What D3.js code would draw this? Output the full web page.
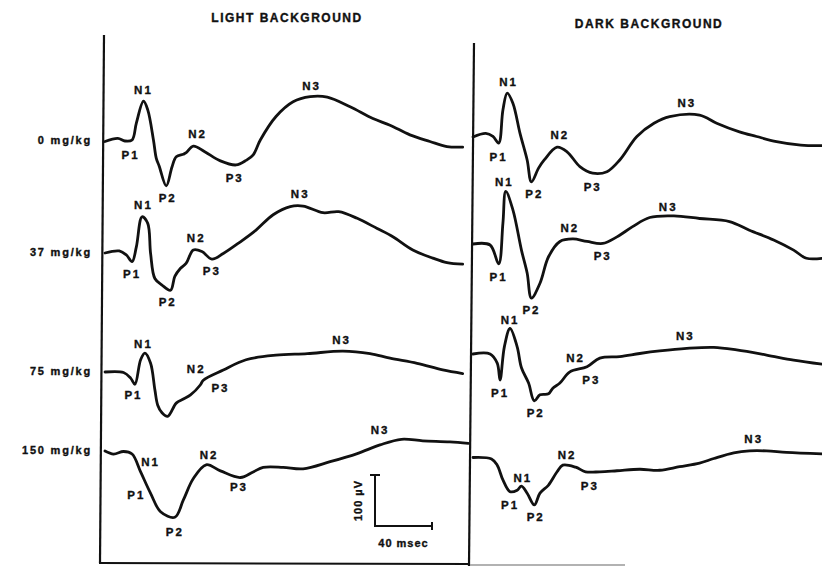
<!DOCTYPE html>
<html>
<head>
<meta charset="utf-8">
<script src="https://cdn.jsdelivr.net/npm/d3@7/dist/d3.min.js"></script>
<style>
body { margin: 0; background: #fff; }
text { font-family: "Liberation Sans", Arial, sans-serif; font-weight: bold; fill: #111; stroke: #111; stroke-width: 0.35; }
</style>
</head>
<body>
<div id="chart"></div>
<script>
// evoked potentials: time in msec, amplitude in uV (negative up)
var panels = ["LIGHT BACKGROUND", "DARK BACKGROUND"];
var doses = ["0 mg/kg", "37 mg/kg", "75 mg/kg", "150 mg/kg"];

var light0 = [[0,0],[9,6],[14,1],[19,3],[22,36],[27,79],[30,62],[34,3],[36,-33],[38,-48],[43,-87],[47,-50],[50,-30],[55,-25],[57,-22],[62,-9],[70,-20],[81,-38],[92,-46],[99,-37],[104,-26],[109,3],[120,49],[132,78],[144,88],[156,87],[172,68],[188,45],[200,32],[214,13],[228,0],[240,-10],[251,-11]];
var light37 = [[0,0],[10,4],[15,-4],[19,-17],[22,12],[26,71],[30,58],[32,-1],[35,-50],[40,-63],[46,-73],[49,-46],[53,-30],[57,-20],[62,6],[68,3],[75,-12],[83,-1],[95,22],[106,45],[118,75],[130,91],[139,92],[153,79],[164,81],[177,68],[191,48],[202,32],[216,6],[230,-10],[240,-19],[251,-22]];
var light75 = [[0,0],[13,-1],[18,-12],[21,-24],[25,24],[28,37],[32,17],[35,-35],[37,-65],[40,-80],[44,-87],[50,-61],[55,-53],[60,-45],[67,-25],[69,-16],[83,4],[99,24],[120,33],[142,36],[167,41],[186,36],[200,27],[219,17],[237,4],[251,-3]];
var light150 = [[0,0],[6,-6],[13,-1],[19,-6],[25,-41],[32,-83],[39,-119],[49,-130],[55,-96],[62,-54],[71,-27],[81,-39],[95,-52],[104,-41],[111,-32],[125,-32],[139,-35],[158,-21],[177,-5],[193,12],[208,23],[223,20],[242,18],[255,15]];

var dark0 = [[0,0],[9,7],[14,1],[18,-12],[21,53],[24,86],[28,66],[33,7],[38,-45],[41,-88],[46,-61],[50,-45],[59,-20],[66,-29],[75,-58],[84,-71],[94,-68],[103,-45],[115,1],[127,27],[138,40],[159,43],[171,27],[187,10],[199,1],[213,-9],[230,-16],[245,-17]];
var dark37 = [[0,0],[12,-2],[18,-39],[21,41],[23,103],[28,67],[34,-12],[38,-57],[41,-106],[47,-77],[53,-25],[61,5],[70,10],[80,5],[91,1],[101,14],[112,34],[124,52],[141,55],[159,50],[180,44],[194,27],[211,8],[225,-12],[234,-28],[245,-28]];
var dark75 = [[0,0],[12,0],[17,-18],[19,-51],[22,14],[26,50],[31,14],[34,-27],[39,-57],[43,-92],[47,-80],[53,-78],[56,-67],[61,-57],[68,-35],[80,-25],[89,-8],[103,-5],[117,1],[131,6],[150,11],[169,13],[185,8],[206,-2],[225,-12],[245,-20]];
var dark150 = [[0,0],[13,-3],[17,-15],[21,-44],[26,-67],[31,-64],[34,-56],[38,-70],[43,-93],[47,-70],[53,-54],[59,-28],[63,-15],[72,-19],[79,-28],[89,-28],[101,-26],[117,-23],[131,-25],[145,-18],[159,-11],[169,-2],[183,9],[194,13],[206,13],[220,10],[245,7]];

// peak labels: [name, msec, uV]
var light0Peaks = [["N1",27,101],["P1",18,-26],["P2",44,-111],["N2",65,15],["P3",91,-71],["N3",145,109]];
var light37Peaks = [["N1",27,94],["P1",19,-40],["P2",44,-95],["N2",64,29],["P3",75,-35],["N3",137,116]];
var light75Peaks = [["N1",27,56],["P1",20,-45],["N2",64,7],["P3",81,-32],["N3",166,63]];
var light150Peaks = [["N1",32,-21],["P1",22,-86],["P2",49,-158],["N2",73,-8],["P3",94,-70],["N3",193,41]];
var dark0Peaks = [["N1",25,108],["P1",18,-39],["P2",43,-112],["N2",61,4],["P3",84,-97],["N3",150,66]];
var dark37Peaks = [["N1",22,122],["P1",18,-65],["P2",41,-129],["N2",68,31],["P3",91,-24],["N3",137,73]];
var dark75Peaks = [["N1",26,67],["P1",19,-76],["P2",44,-116],["N2",72,-8],["P3",83,-50],["N3",149,35]];
var dark150Peaks = [["N1",35,-40],["P1",26,-93],["P2",44,-116],["N2",66,5],["P3",82,-56],["N3",197,36]];

var scaleMsec = 40, scaleUV = 100;

var traces = [
    [light0, light37, light75, light150],
    [dark0, dark37, dark75, dark150]
];
var peaks = [
    [light0Peaks, light37Peaks, light75Peaks, light150Peaks],
    [dark0Peaks, dark37Peaks, dark75Peaks, dark150Peaks]
];

var svg = d3.select("#chart").append("svg")
    .attr("width", 822)
    .attr("height", 566);

var x = d3.scaleLinear().domain([0, 40]).range([0, 57]);
var y = d3.scaleLinear().domain([0, 100]).range([0, -51]);

var panelX = [105, 473];
var rowY = [[141.5, 253, 372, 451], [137, 244, 354, 457.5]];
var titlePos = [[287, 22], [649, 28]];

var line = d3.line()
    .x((d) => x(d[0]))
    .y((d) => y(d[1]))
    .curve(d3.curveCatmullRom.alpha(0.5));

// frame lines (scan is slightly tilted)
svg.append("line").attr("x1", 104).attr("y1", 35).attr("x2", 100).attr("y2", 563)
    .attr("stroke", "#111").attr("stroke-width", 2.2);
svg.append("line").attr("x1", 474).attr("y1", 43).attr("x2", 469).attr("y2", 566)
    .attr("stroke", "#111").attr("stroke-width", 2.2);
svg.append("line").attr("x1", 99).attr("y1", 563).attr("x2", 470).attr("y2", 564)
    .attr("stroke", "#111").attr("stroke-width", 2);
svg.append("line").attr("x1", 470).attr("y1", 565).attr("x2", 625).attr("y2", 565)
    .attr("stroke", "#999").attr("stroke-width", 1.5);

panels.forEach((title, p) => {
    svg.append("text")
        .attr("x", titlePos[p][0])
        .attr("y", titlePos[p][1])
        .attr("text-anchor", "middle")
        .attr("font-size", 12)
        .attr("letter-spacing", 1.5)
        .text(title);

    traces[p].forEach((trace, r) => {
        var g = svg.append("g")
            .attr("transform", "translate(" + panelX[p] + "," + rowY[p][r] + ")");
        g.append("path")
            .datum(trace)
            .attr("d", line)
            .attr("fill", "none")
            .attr("stroke", "#111")
            .attr("stroke-width", 2.8)
            .attr("stroke-linejoin", "round")
            .attr("stroke-linecap", "round");
        g.selectAll("text.peak")
            .data(peaks[p][r])
            .enter()
            .append("text")
            .attr("class", "peak")
            .attr("x", (d) => x(d[1]))
            .attr("y", (d) => y(d[2]))
            .attr("dy", "0.36em")
            .attr("text-anchor", "middle")
            .attr("font-size", 11.5)
            .attr("letter-spacing", 2)
            .text((d) => d[0]);
    });
});

// dose labels
svg.selectAll("text.dose")
    .data(doses)
    .enter()
    .append("text")
    .attr("class", "dose")
    .attr("x", 92)
    .attr("y", (d, i) => rowY[0][i] - 1)
    .attr("dy", "0.36em")
    .attr("text-anchor", "end")
    .attr("font-size", 11)
    .attr("letter-spacing", 1.8)
    .text((d) => d);

// calibration bar
var cal = svg.append("g").attr("transform", "translate(375,526)");
cal.append("path")
    .attr("d", "M" + (x(0) - 5) + "," + y(scaleUV) + "H" + (x(0) + 5) +
        "M" + x(0) + "," + y(scaleUV) + "V" + y(0) + "H" + x(scaleMsec) +
        "M" + x(scaleMsec) + "," + (y(0) - 4) + "V" + (y(0) + 4))
    .attr("fill", "none")
    .attr("stroke", "#111")
    .attr("stroke-width", 2);
cal.append("text")
    .attr("transform", "translate(-17," + y(scaleUV / 2) + ") rotate(-90)")
    .attr("text-anchor", "middle")
    .attr("dy", "0.36em")
    .attr("font-size", 11)
    .attr("letter-spacing", 1)
    .text("100 \u00b5V");
cal.append("text")
    .attr("x", x(scaleMsec / 2))
    .attr("y", 17)
    .attr("text-anchor", "middle")
    .attr("dy", "0.36em")
    .attr("font-size", 11)
    .attr("letter-spacing", 1)
    .text(scaleMsec + " msec");
</script>
</body>
</html>
